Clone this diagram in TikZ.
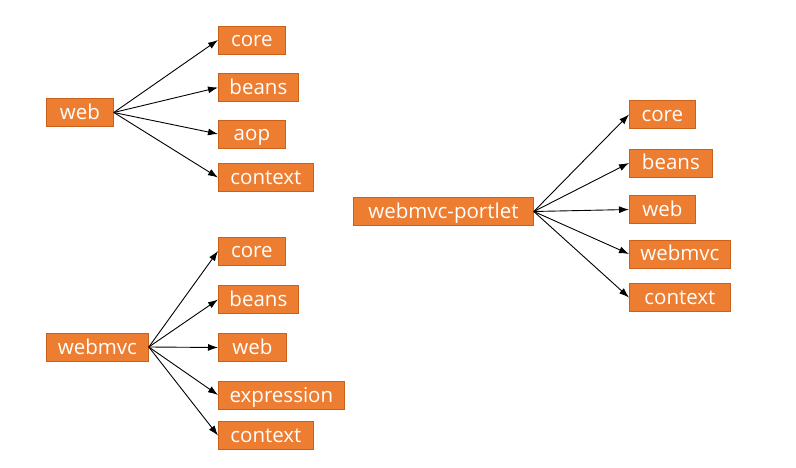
\documentclass[tikz,border=0pt]{standalone}
\usepackage{fontspec}
\setmainfont{Open Sans}
\usetikzlibrary{arrows.meta}
\definecolor{boxfill}{HTML}{ED7D31}
\definecolor{boxline}{HTML}{C9611C}
\tikzset{
  mod/.style={anchor=west, fill=boxfill, draw=boxline, line width=0.8pt, text=white,
    minimum height=28pt, inner sep=0pt, text height=14pt, text depth=0pt,
    font=\fontsize{20.5}{24}\selectfont},
  arr/.style={draw=black, line width=0.9pt, -{Latex[length=10pt,width=7pt]}}
}
\begin{document}
\begin{tikzpicture}[x=1pt,y=-1pt]
\useasboundingbox[fill=white] (0,0) rectangle (796,468);
% group 1
\node[mod, minimum width=67pt] (web) at (46,112.5) {web};
\node[mod, minimum width=67pt] (coreA) at (218,40) {core};
\node[mod, minimum width=80pt] (beansA) at (218,87.5) {beans};
\node[mod, minimum width=67pt] (aopA) at (218,134) {aop};
\node[mod, minimum width=95pt] (ctxA) at (218,177.5) {context};
% group 2
\node[mod, minimum width=102pt] (webmvc) at (46,347) {webmvc};
\node[mod, minimum width=67pt] (coreB) at (218,251) {core};
\node[mod, minimum width=80pt] (beansB) at (218,299.5) {beans};
\node[mod, minimum width=68pt] (webB) at (218,347.5) {web};
\node[mod, minimum width=126pt] (exprB) at (218,395) {expression};
\node[mod, minimum width=95pt] (ctxB) at (218,435.5) {context};
% group 3
\node[mod, minimum width=180pt] (portlet) at (353,211.5) {webmvc-portlet};
\node[mod, minimum width=66pt] (coreC) at (629,114.5) {core};
\node[mod, minimum width=83pt] (beansC) at (629,163) {beans};
\node[mod, minimum width=66pt] (webC) at (629,209.5) {web};
\node[mod, minimum width=101pt] (webmvcC) at (629,254) {webmvc};
\node[mod, minimum width=101pt] (ctxC) at (629,297.5) {context};
% arrows
\foreach \t in {coreA,beansA,aopA,ctxA} \draw[arr] (web.east) -- (\t.west);
\foreach \t in {coreB,beansB,webB,exprB,ctxB} \draw[arr] (webmvc.east) -- (\t.west);
\foreach \t in {coreC,beansC,webC,webmvcC,ctxC} \draw[arr] (portlet.east) -- (\t.west);
\end{tikzpicture}
\end{document}
